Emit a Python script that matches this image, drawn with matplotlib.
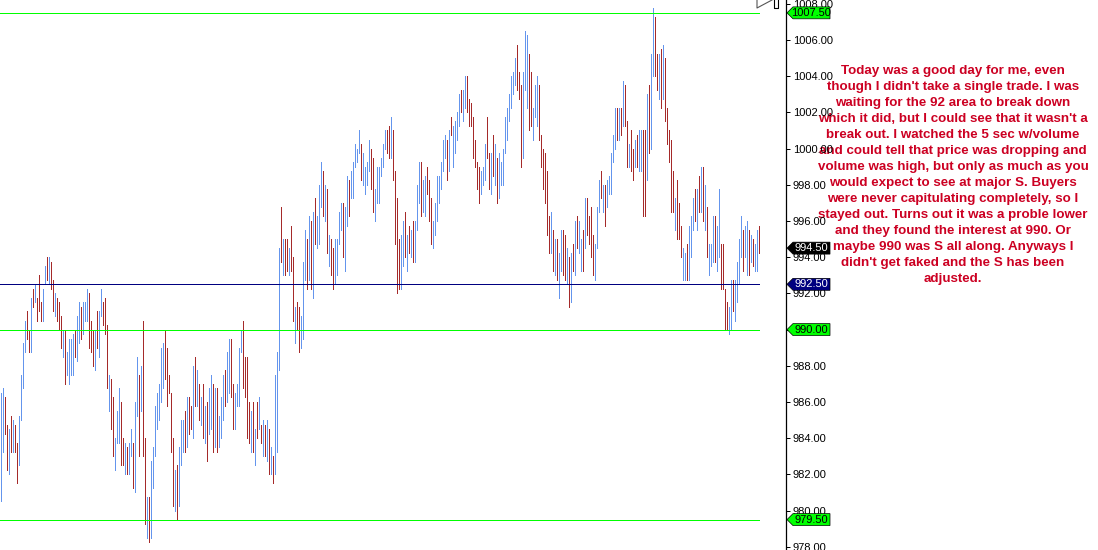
import numpy as np
import matplotlib
matplotlib.use("Agg")
import matplotlib.pyplot as plt
from matplotlib.patches import Polygon
from matplotlib.lines import Line2D

# bar data (high / low per bar), U = up bar (blue), D = down bar (red)
bar_high = [
    986.5, 986.75, 986.25, 984.75, 984.5, 985.25, 985.0, 984.75, 983.75, 985.25,
    987.5, 989.25, 990.5, 991.0, 990.0, 991.75, 992.25, 992.5, 991.75, 993.0,
    991.5, 992.25, 993.5, 994.0, 994.0, 993.75, 992.75, 992.0, 991.75, 991.5,
    990.75, 990.0, 990.0, 988.75, 989.5, 989.5, 989.75, 990.0, 990.75, 991.5,
    991.25, 991.5, 991.5, 992.25, 992.0, 990.5, 990.0, 990.0, 991.0, 991.0,
    992.25, 991.5, 991.75, 990.25, 987.5, 987.25, 986.25, 984.0, 985.5, 986.75,
    986.0, 984.0, 983.75, 983.5, 983.75, 984.5, 983.75, 986.0, 988.5, 987.5,
    988.0, 990.5, 984.0, 980.75, 980.75, 982.75, 983.5, 985.75, 986.5, 987.0,
    989.0, 989.25, 990.0, 989.0, 987.5, 986.5, 984.0, 982.25, 982.5, 983.5,
    985.0, 985.0, 985.5, 986.25, 986.25, 985.75, 988.0, 988.5, 987.75, 987.0,
    986.25, 987.0, 985.75, 986.0, 986.75, 987.5, 987.0, 986.75, 986.75, 985.25,
    986.25, 987.5, 987.75, 988.75, 989.5, 989.5, 987.0, 986.5, 987.0, 989.0,
    990.0, 990.5, 988.5, 988.5, 986.0, 985.5, 986.0, 984.5, 986.0, 986.25,
    984.75, 985.0, 984.75, 985.0, 984.5, 983.5, 983.0, 987.5, 988.75, 994.5,
    996.75, 995.0, 995.0, 995.0, 994.5, 995.75, 994.0, 991.25, 991.5, 991.25,
    990.75, 993.75, 995.5, 995.0, 996.25, 996.0, 996.5, 997.25, 996.25, 998.0,
    999.25, 998.75, 998.0, 997.75, 995.25, 995.0, 994.5, 995.0, 995.0, 996.5,
    997.0, 997.0, 996.75, 998.5, 998.25, 998.75, 999.25, 1000.25, 1000.0, 1001.0,
    1000.25, 999.75, 999.0, 999.25, 1000.5, 1000.0, 999.5, 997.75, 999.0, 999.0,
    999.5, 1000.25, 1001.0, 1001.0, 1001.25, 1001.75, 1001.0, 998.75, 997.25, 995.0,
    995.25, 996.0, 996.5, 995.25, 995.75, 995.5, 996.0, 996.0, 998.0, 999.25,
    999.25, 998.25, 998.5, 999.0, 998.25, 997.25, 996.0, 997.0, 998.5, 998.5,
    999.25, 1000.5, 1000.75, 1000.5, 1001.0, 1001.75, 1001.25, 1001.5, 1002.0, 1003.0,
    1003.25, 1003.25, 1004.0, 1004.0, 1002.75, 1002.5, 1001.75, 1000.5, 999.25, 999.0,
    998.75, 999.0, 1000.25, 1001.75, 999.75, 999.75, 1000.75, 1000.25, 999.5, 999.75,
    999.25, 1000.0, 1001.75, 1002.25, 1003.0, 1004.0, 1004.25, 1005.0, 1005.75, 1004.25,
    1003.5, 1004.25, 1006.5, 1006.25, 1005.25, 1004.25, 1002.25, 1003.5, 1004.0, 1003.5,
    1000.75, 1000.0, 999.75, 998.75, 996.25, 996.5, 995.5, 995.0, 995.0, 994.25,
    995.5, 995.5, 995.25, 994.5, 994.0, 994.25, 994.75, 996.0, 996.25, 996.0,
    995.0, 995.5, 997.25, 997.25, 996.25, 996.75, 995.25, 994.75, 996.75, 998.25,
    998.75, 998.0, 998.0, 998.25, 998.5, 999.75, 1000.75, 1002.25, 1002.25, 1002.25,
    1002.25, 1003.75, 1003.5, 1001.5, 1000.25, 1001.0, 1000.0, 1000.5, 1000.75, 1001.0,
    1001.0, 1001.0, 1001.0, 1003.0, 1003.5, 1005.25, 1007.75, 1007.25, 1005.25, 1005.25,
    1005.5, 1005.75, 1005.0, 1002.25, 1001.0, 1000.5, 998.75, 997.25, 998.25, 997.0,
    995.75, 994.5, 994.25, 994.75, 995.75, 996.25, 997.25, 997.75, 997.75, 998.5,
    999.0, 999.0, 998.0, 996.75, 994.75, 994.75, 996.25, 996.25, 995.75, 997.75,
    994.75, 994.75, 992.25, 991.5, 991.25, 992.75, 992.75, 992.75, 993.75, 995.0,
    996.25, 995.5, 995.75, 996.0, 995.5, 995.25, 995.0, 994.75, 995.5, 995.75,
]
bar_low = [
    980.5, 983.25, 984.25, 982.25, 982.0, 983.25, 983.25, 983.25, 981.5, 982.5,
    985.0, 986.75, 988.75, 989.5, 988.75, 988.75, 991.25, 991.5, 990.5, 991.0,
    990.5, 990.5, 992.5, 992.75, 992.5, 992.25, 991.0, 990.75, 990.5, 990.0,
    989.0, 988.5, 987.0, 987.5, 987.0, 987.5, 987.5, 988.5, 988.25, 989.25,
    989.5, 989.75, 990.5, 990.5, 989.0, 988.75, 988.0, 987.75, 989.0, 988.5,
    990.75, 990.25, 989.75, 986.75, 985.5, 984.5, 983.0, 982.25, 983.75, 983.75,
    982.5, 982.5, 982.0, 982.0, 982.0, 983.0, 981.25, 981.0, 985.25, 983.0,
    985.5, 983.0, 979.25, 978.5, 978.25, 978.5, 981.25, 983.0, 984.5, 985.0,
    986.0, 986.75, 987.25, 985.75, 986.5, 983.25, 980.25, 980.0, 979.5, 980.25,
    982.5, 983.25, 983.25, 983.5, 984.25, 984.5, 984.0, 985.75, 985.75, 985.0,
    984.75, 984.0, 983.75, 982.75, 984.25, 984.5, 983.25, 983.5, 983.25, 983.5,
    984.0, 985.0, 985.75, 986.0, 986.5, 986.25, 984.5, 984.5, 985.75, 985.75,
    988.75, 986.75, 986.25, 984.0, 983.75, 983.25, 983.25, 982.5, 984.0, 984.5,
    983.75, 983.0, 983.0, 982.75, 982.0, 982.0, 981.5, 982.0, 983.25, 987.75,
    993.75, 993.0, 993.0, 993.25, 993.0, 993.25, 990.5, 989.25, 990.0, 988.75,
    989.0, 989.5, 992.75, 992.25, 992.75, 992.25, 991.75, 994.75, 994.5, 994.75,
    996.75, 996.25, 996.0, 994.25, 993.5, 993.0, 992.25, 992.5, 993.0, 994.75,
    995.5, 994.0, 993.25, 995.75, 996.25, 997.25, 997.25, 999.0, 999.25, 999.75,
    998.25, 998.0, 997.5, 998.0, 998.75, 997.75, 996.5, 996.0, 997.0, 997.0,
    998.5, 999.0, 1000.0, 999.75, 999.5, 999.5, 998.25, 994.75, 992.0, 992.25,
    992.25, 993.5, 994.0, 993.25, 994.25, 994.0, 993.75, 993.75, 995.5, 997.0,
    996.25, 996.5, 996.25, 997.5, 996.0, 994.75, 994.5, 995.25, 996.0, 997.0,
    997.75, 998.75, 999.5, 998.25, 998.75, 1000.75, 999.0, 999.75, 1000.5, 1001.25,
    1002.0, 1001.5, 1002.25, 1002.0, 1001.25, 1001.25, 999.5, 999.0, 997.75, 997.0,
    997.5, 998.0, 998.25, 999.5, 997.75, 997.5, 998.5, 998.0, 997.0, 997.25,
    998.0, 998.0, 999.75, 1000.5, 1001.5, 1002.25, 1003.0, 1003.5, 1003.25, 1002.75,
    999.0, 999.5, 1003.25, 1002.25, 1001.0, 1001.25, 1000.5, 1001.75, 1001.25, 1000.5,
    999.0, 997.75, 997.0, 995.25, 994.25, 994.25, 993.25, 993.0, 992.75, 991.75,
    993.25, 993.0, 992.75, 992.5, 991.25, 991.5, 993.25, 993.0, 994.5, 994.25,
    993.25, 993.25, 994.5, 995.25, 994.75, 994.0, 993.0, 992.75, 994.5, 996.5,
    997.25, 996.5, 995.75, 996.75, 997.5, 997.5, 999.25, 1000.0, 1000.5, 1000.5,
    1000.75, 1001.25, 1001.25, 999.0, 999.0, 998.75, 998.25, 999.0, 999.0, 998.75,
    998.75, 996.25, 996.25, 998.25, 999.75, 1000.0, 1004.0, 1004.0, 1003.25, 1002.75,
    1002.25, 1002.75, 1001.5, 1000.25, 999.25, 996.5, 996.5, 995.5, 995.0, 995.0,
    994.0, 992.75, 992.75, 992.75, 992.75, 994.0, 995.5, 996.0, 995.5, 996.5,
    996.5, 996.0, 995.5, 994.0, 993.0, 993.5, 993.75, 993.75, 993.25, 994.0,
    992.25, 992.25, 990.0, 990.0, 989.75, 990.0, 991.0, 990.5, 991.5, 992.5,
    994.0, 993.25, 994.0, 993.0, 993.0, 993.75, 993.5, 993.25, 993.25, 994.25,
]
bar_dir = (
    "UUDDUDUDDU" "UUUDDUDUDD" "DUUDUDDUDD" "DUDUUUUDUU" "DUUUDDDUDU"
    "UDDDUDDUUU" "DDUDUUDUUD" "UDDUDUUUUU" "UUDDDDDUDU" "UUDUDDUDUD"
    "UDUDUUDUDU" "UUDUUDDUUU" "UDDDDUDUDU" "DUDUDUDUUU" "DUDDUDDUDD"
    "UUUDUDUDUU" "UDUDUDDUUU" "UDUUDUUUUU" "DUUUUDDUUU" "UUUDDUDDDD"
    "UUDUDUDUUU" "DUUDDDUUUU" "UUUDUDUUUU" "DUUDDDDDDD" "UUUDDUDUDU"
    "UUUUUUUUDD" "DUUUDDUUUD" "DDDDDUDUDU" "UDDUDUDUDU" "UDUDDDDUUU"
    "DUDUUUUUDU" "DUDDUDDUDU" "UDDUDUUDDU" "DUDDDDDUDD" "DUUDUUUDUD"
    "UDUDUUUDUU" "DDDDUUDUUU" "UDUUDUDUUD"
)

# horizontal levels and price tags
levels = [1007.5, 992.5, 990.0, 979.5]
level_colors = ["#00ff00", "#000080", "#00ff00", "#00ff00"]
tags = [(1007.5, "1007.50", "#00ff00", "black"),
        (994.5, "994.50", "black", "white"),
        (992.5, "992.50", "#000080", "white"),
        (990.0, "990.00", "#00ff00", "black"),
        (979.5, "979.50", "#00ff00", "black")]

note_lines = [
    "Today was a good day for me, even",
    "though I didn't take a single trade. I was",
    "waiting for the 92 area to break down",
    "which it did, but I could see that it wasn't a",
    "break out. I watched the 5 sec w/volume",
    "and could tell that price was dropping and",
    "volume was high, but only as much as you",
    "would expect to see at major S. Buyers",
    "were never capitulating completely, so I",
    "stayed out. Turns out it was a proble lower",
    "and they found the interest at 990. Or",
    "maybe 990 was S all along. Anyways I",
    "didn't get faked and the S has been",
    "adjusted.",
]

W, H = 1098, 550
fig = plt.figure(figsize=(W / 100, H / 100), dpi=100)
ax_w = 786
ax = fig.add_axes([0, 0, ax_w / W, 1])

x = np.arange(len(bar_high))
cols = ["#6495ed" if d == "U" else "#a52a2a" for d in bar_dir]
ax.vlines(x, bar_low, bar_high, colors=cols, linewidth=0.72, antialiased=False)

for lv, c in zip(levels, level_colors):
    ax.hlines(lv, -1, len(bar_high) - 1, colors=c, linewidth=0.72, antialiased=False)

ax.set_xlim(-0.665, 392.335)
ax.set_ylim(977.82, 1008.21)

for s in ["left", "top", "bottom"]:
    ax.spines[s].set_visible(False)
ax.spines["right"].set_color("black")
ax.spines["right"].set_linewidth(0.9)
ax.set_xticks([])
ax.yaxis.tick_right()
ax.set_yticks(np.arange(978, 1009, 2))
ax.set_yticklabels(["%.2f" % v for v in np.arange(978, 1009, 2)])
ax.tick_params(axis="y", length=3, width=0.72, pad=2, labelsize=8,
               labelcolor="black")
for lab in ax.get_yticklabels():
    lab.set_family("Liberation Sans")

# price tags on the axis
tr = ax.get_yaxis_transform()
tip, body, right = 787 / ax_w, 793 / ax_w, 830 / ax_w
hh = 0.33
for val, txt, fc, tc in tags:
    poly = Polygon([(tip, val), (body, val + hh), (right, val + hh),
                    (right, val - hh), (body, val - hh)], closed=True,
                   transform=tr, facecolor=fc, edgecolor="black",
                   linewidth=0.5, clip_on=False, zorder=5)
    ax.add_patch(poly)
    ax.text(811.5 / ax_w, val, txt, transform=tr, ha="center", va="center",
            fontsize=8, family="Liberation Sans", color=tc, zorder=6,
            clip_on=False)

# little scroll marker in the top corner
fig.add_artist(Line2D([757 / W, 757 / W, 772 / W], [1, 1 - 8 / H, 1],
                      transform=fig.transFigure, color="#555555", lw=0.8))
fig.add_artist(Line2D([774 / W, 774 / W, 778 / W, 778 / W],
                      [1, 1 - 8 / H, 1 - 8 / H, 1],
                      transform=fig.transFigure, color="black", lw=0.8))

# the note
for i, line in enumerate(note_lines):
    ax.text(953 / W, 1 - (71 + 16 * i) / H, line, transform=fig.transFigure,
            ha="center", va="center", fontsize=9.6, fontweight="bold",
            family="Liberation Sans", color="#cc0022", zorder=1,
            clip_on=False)

fig.savefig("out.png", dpi=100)
